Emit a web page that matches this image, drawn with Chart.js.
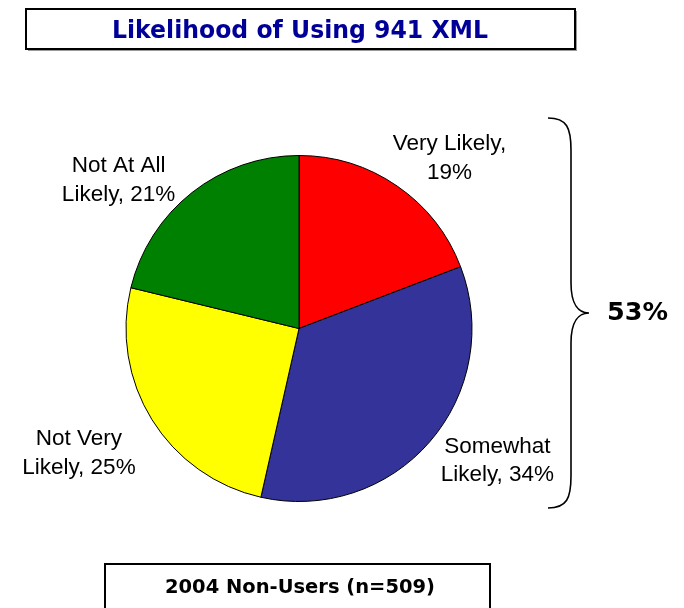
<!DOCTYPE html>
<html>
<head>
<meta charset="utf-8">
<script src="https://cdn.jsdelivr.net/npm/chart.js@4"></script>
<style>
  body { margin: 0; background: #fff; }
  #wrap { width: 684px; height: 608px; position: relative; }
</style>
</head>
<body>
<div id="wrap"><canvas id="pieChart"></canvas></div>
<script>
// datos del grafico
const titulo = 'Likelihood of Using 941 XML';
const pie = '2004 Non-Users (n=509)';
const categorias = [['Very Likely'], ['Somewhat', 'Likely'], ['Not Very', 'Likely'], ['Not At All', 'Likely']];
const valores = [19, 34, 25, 21];
const colores = ['#FF0000', '#333399', '#FFFF00', '#008000'];
// indices de las rebanadas que abarca la llave
const grupoLlave = [0, 1];

// posicion de cada etiqueta respecto al centro, en radios (x centro, primera linea base)
const posEtiquetas = [[0.87, -1.03], [1.147, 0.717], [-1.272, 0.676], [-1.043, -0.902]];

function lineasEtiqueta(i) {
    const lineas = categorias[i].slice();
    const pct = valores[i] + '%';
    if (lineas.length === 1) {
        lineas[0] += ',';
        lineas.push(pct);
    } else {
        lineas[lineas.length - 1] += ', ' + pct;
    }
    return lineas;
}

// texto ajustado a un ancho dado
function textoAjustado(ctx, texto, cx, base, ancho, fuente, color) {
    ctx.save();
    ctx.font = fuente;
    ctx.fillStyle = color;
    ctx.textAlign = 'center';
    ctx.textBaseline = 'alphabetic';
    const w = ctx.measureText(texto).width;
    ctx.translate(cx, base);
    ctx.scale(ancho / w, 1);
    ctx.fillText(texto, 0, 0);
    ctx.restore();
}

const decoracion = {
    id: 'decoracion',
    afterDraw(chart) {
        const ctx = chart.ctx;
        const arcos = chart.getDatasetMeta(0).data;
        const a0 = arcos[0];
        const cx = a0.x, cy = a0.y, R = a0.outerRadius;

        // caja del titulo
        ctx.save();
        ctx.fillStyle = '#999';
        ctx.fillRect(28, 11, 549, 40);
        ctx.fillStyle = '#fff';
        ctx.fillRect(26, 9, 549, 40);
        ctx.strokeStyle = '#000';
        ctx.lineWidth = 2;
        ctx.strokeRect(26, 9, 549, 40);
        ctx.restore();
        textoAjustado(ctx, titulo, 300, 38, 376, 'bold 25px "DejaVu Sans"', '#000099');

        // etiquetas
        ctx.save();
        ctx.font = '22.5px "Liberation Sans", Arial, sans-serif';
        ctx.fillStyle = '#000';
        ctx.textAlign = 'center';
        ctx.textBaseline = 'alphabetic';
        arcos.forEach((arco, i) => {
            const lineas = lineasEtiqueta(i);
            const x = cx + posEtiquetas[i][0] * R;
            const y = cy + posEtiquetas[i][1] * R;
            lineas.forEach((l, j) => ctx.fillText(l, x, y + j * 28.5));
        });
        ctx.restore();

        // llave
        const top = 118, bot = 508, mid = (top + bot) / 2;
        const xl = 548, xv = 571, xp = 589;
        ctx.save();
        ctx.strokeStyle = '#000';
        ctx.lineWidth = 1.6;
        ctx.beginPath();
        ctx.moveTo(xl, top);
        ctx.bezierCurveTo(xv - 4, top, xv, top + 10, xv, top + 32);
        ctx.lineTo(xv, mid - 30);
        ctx.bezierCurveTo(xv, mid - 8, xv + 8, mid, xp, mid);
        ctx.bezierCurveTo(xv + 8, mid, xv, mid + 8, xv, mid + 30);
        ctx.lineTo(xv, bot - 32);
        ctx.bezierCurveTo(xv, bot - 10, xv - 4, bot, xl, bot);
        ctx.stroke();
        ctx.restore();
        const suma = grupoLlave.reduce((s, i) => s + valores[i], 0);
        textoAjustado(ctx, suma + '%', 637.5, 320, 61, 'bold 24px "DejaVu Sans"', '#000');

        // caja inferior
        ctx.save();
        ctx.fillStyle = '#fff';
        ctx.fillRect(105, 564, 385, 50);
        ctx.strokeStyle = '#000';
        ctx.lineWidth = 2;
        ctx.strokeRect(105, 564, 385, 50);
        ctx.restore();
        textoAjustado(ctx, pie, 300, 593, 270, 'bold 19px "DejaVu Sans"', '#000');
    }
};

new Chart(document.getElementById('pieChart'), {
    type: 'pie',
    data: {
        labels: categorias.map(c => c.join(' ')),
        datasets: [{
            data: valores,
            backgroundColor: colores,
            borderColor: '#000',
            borderWidth: 1
        }]
    },
    options: {
        responsive: true,
        maintainAspectRatio: false,
        animation: false,
        events: [],
        layout: { padding: { left: 125, right: 211, top: 155, bottom: 106 } },
        plugins: {
            legend: { display: false },
            tooltip: { enabled: false },
            title: { display: false }
        }
    },
    plugins: [decoracion]
});
</script>
</body>
</html>
